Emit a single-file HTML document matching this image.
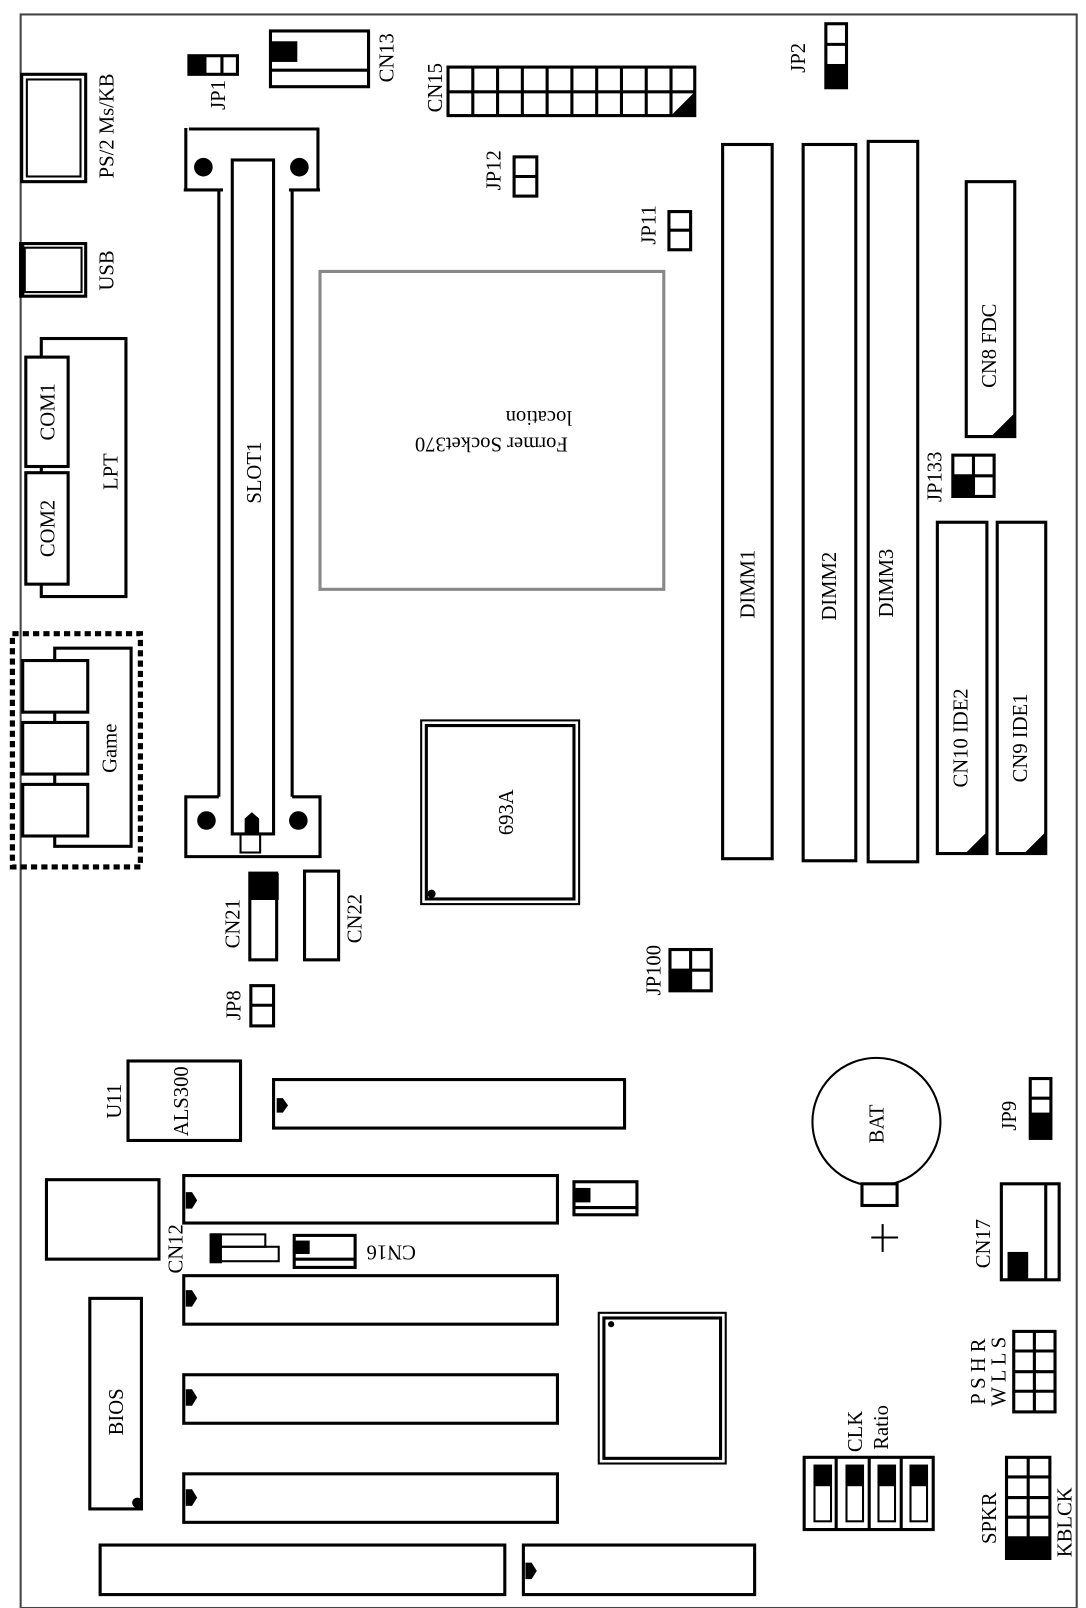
<!DOCTYPE html>
<html><head><meta charset="utf-8"><style>
html,body{margin:0;padding:0;background:#fff;}
svg{display:block;}
text{font-family:"Liberation Serif","Times New Roman",serif;font-size:20px;fill:#000;}
</style></head><body>
<svg width="1086" height="1608" viewBox="0 0 1052 1558" preserveAspectRatio="none" xmlns="http://www.w3.org/2000/svg">
<g fill="none" stroke="#000" stroke-width="3">
<rect x="20" y="14" width="1023" height="1544" stroke="#444" stroke-width="2"/>
<rect x="21" y="72" width="62" height="104"/>
<rect x="26" y="77" width="52" height="94" stroke-width="2"/>
<rect x="20" y="236" width="63" height="51"/>
<rect x="24" y="240" width="55" height="43" stroke-width="2"/>
<line x1="21" y1="236" x2="21" y2="287" stroke-width="5"/>
<rect x="40" y="328" width="82" height="250"/>
<rect x="25" y="346" width="41" height="106" fill="#fff"/>
<rect x="25" y="458" width="41" height="108" fill="#fff"/>
<rect x="12" y="614" width="124" height="226" stroke-width="5" stroke-dasharray="6,4"/>
<rect x="53" y="628" width="74" height="192"/>
<rect x="22" y="640" width="63" height="50" fill="#fff"/>
<rect x="22" y="700" width="63" height="50" fill="#fff"/>
<rect x="22" y="760" width="63" height="50" fill="#fff"/>
<polyline points="180,184 180,124"/>
<polyline points="183,125 308,125 308,185"/>
<line x1="178" y1="184" x2="216" y2="184"/>
<line x1="280" y1="184" x2="310" y2="184"/>
<line x1="212" y1="184" x2="212" y2="772"/>
<line x1="283" y1="184" x2="283" y2="772"/>
<rect x="225" y="155" width="40" height="653"/>
<polyline points="212,772 180,772 180,830 310,830 310,772 283,772"/>
<rect x="233" y="808" width="19" height="18" stroke-width="2"/>
<rect x="183" y="54" width="47" height="18"/>
<line x1="215" y1="54" x2="215" y2="72"/>
<rect x="262" y="30" width="95" height="54"/>
<line x1="262" y1="68" x2="357" y2="68"/>
<rect x="434" y="65" width="239" height="47"/>
<line x1="434" y1="89" x2="673" y2="89"/>
<line x1="458" y1="65" x2="458" y2="112"/><line x1="482" y1="65" x2="482" y2="112"/>
<line x1="506" y1="65" x2="506" y2="112"/><line x1="530" y1="65" x2="530" y2="112"/>
<line x1="554" y1="65" x2="554" y2="112"/><line x1="578" y1="65" x2="578" y2="112"/>
<line x1="602" y1="65" x2="602" y2="112"/><line x1="626" y1="65" x2="626" y2="112"/>
<line x1="650" y1="65" x2="650" y2="112"/>
<rect x="498" y="152" width="22" height="38"/><line x1="498" y1="171" x2="520" y2="171"/>
<rect x="648" y="205" width="21" height="37"/><line x1="648" y1="223" x2="669" y2="223"/>
<rect x="800" y="23" width="20" height="62"/><line x1="800" y1="43" x2="820" y2="43"/>
<rect x="310" y="263" width="333" height="308" stroke="#888" stroke-width="3"/>
<rect x="700" y="140" width="48" height="692"/>
<rect x="778" y="140" width="51" height="694"/>
<rect x="841" y="137" width="48" height="698"/>
<rect x="936" y="176" width="47" height="247"/>
<rect x="923" y="441" width="40" height="40"/><line x1="943" y1="441" x2="943" y2="481"/><line x1="923" y1="461" x2="963" y2="461"/>
<rect x="908" y="506" width="48" height="321"/>
<rect x="966" y="506" width="47" height="321"/>
<rect x="408" y="698" width="153" height="178" stroke-width="2"/>
<rect x="413" y="703" width="143" height="168" stroke-width="3"/>
<rect x="649" y="920" width="40" height="40"/><line x1="669" y1="920" x2="669" y2="960"/><line x1="649" y1="940" x2="689" y2="940"/>
<rect x="242" y="846" width="26" height="84"/>
<rect x="295" y="844" width="33" height="86"/>
<rect x="243" y="955" width="22" height="39"/><line x1="243" y1="974" x2="265" y2="974"/>
<rect x="124" y="1028" width="109" height="77"/>
<rect x="265" y="1046" width="340" height="47"/>
<rect x="45" y="1143" width="109" height="77"/>
<rect x="178" y="1139" width="362" height="46"/>
<rect x="178" y="1236" width="362" height="47"/>
<rect x="178" y="1332" width="362" height="47"/>
<rect x="178" y="1428" width="362" height="47"/>
<rect x="205" y="1196" width="52" height="12" stroke-width="2"/>
<rect x="205" y="1208" width="65" height="14" stroke-width="2"/>
<rect x="285" y="1197" width="59" height="31"/><line x1="285" y1="1220" x2="344" y2="1220"/>
<rect x="556" y="1145" width="61" height="32"/><line x1="556" y1="1170" x2="617" y2="1170"/>
<rect x="87" y="1258" width="50" height="204"/>
<rect x="97" y="1497" width="392" height="48"/>
<rect x="507" y="1497" width="224" height="48"/>
<rect x="580" y="1272" width="123" height="146" stroke-width="2"/>
<rect x="585" y="1277" width="113" height="136"/>
<circle cx="849" cy="1087" r="62" stroke-width="2"/>
<rect x="835" y="1147" width="34" height="21" fill="#fff"/>
<line x1="844" y1="1199" x2="870" y2="1199" stroke-width="2"/>
<line x1="855" y1="1186" x2="855" y2="1213" stroke-width="2"/>
<rect x="998" y="1045" width="20" height="58"/><line x1="998" y1="1064" x2="1018" y2="1064"/>
<rect x="970" y="1147" width="56" height="93"/><line x1="1013" y1="1147" x2="1013" y2="1240"/>
<rect x="982" y="1290" width="40" height="78"/><line x1="1002" y1="1290" x2="1002" y2="1368"/>
<line x1="982" y1="1309" x2="1022" y2="1309"/><line x1="982" y1="1329" x2="1022" y2="1329"/><line x1="982" y1="1348" x2="1022" y2="1348"/>
<rect x="779" y="1412" width="125" height="70"/>
<line x1="810" y1="1412" x2="810" y2="1482"/><line x1="842" y1="1412" x2="842" y2="1482"/><line x1="873" y1="1412" x2="873" y2="1482"/>
<rect x="789" y="1420" width="16" height="54" stroke-width="2"/>
<rect x="820" y="1420" width="16" height="54" stroke-width="2"/>
<rect x="851" y="1420" width="16" height="54" stroke-width="2"/>
<rect x="882" y="1420" width="16" height="54" stroke-width="2"/>
<rect x="975" y="1412" width="42" height="98"/><line x1="996" y1="1412" x2="996" y2="1510"/>
<line x1="975" y1="1431" x2="1017" y2="1431"/><line x1="975" y1="1451" x2="1017" y2="1451"/><line x1="975" y1="1470" x2="1017" y2="1470"/><line x1="975" y1="1490" x2="1017" y2="1490"/>
</g>
<g fill="#000">
<circle cx="197" cy="162" r="9"/><circle cx="290" cy="162" r="9"/>
<circle cx="200" cy="795" r="9"/><circle cx="289" cy="795" r="9"/>
<polygon points="237,808 237,793 244,787 251,793 251,808"/>
<rect x="183" y="54" width="17" height="18"/>
<rect x="263" y="40" width="25" height="20"/>
<polygon points="673,89 673,112 650,112"/>
<rect x="800" y="62" width="20" height="23"/>
<polygon points="983,400 983,423 960,423"/>
<rect x="923" y="461" width="20" height="20"/>
<polygon points="956,806 956,827 935,827"/>
<polygon points="1013,806 1013,827 992,827"/>
<circle cx="418" cy="866" r="4"/>
<rect x="649" y="940" width="20" height="20"/>
<rect x="241" y="846" width="29" height="26"/>
<polygon points="268,1064 274,1064 279,1071 274,1078 268,1078"/>
<polygon points="180,1155 186,1155 191,1163 186,1171 180,1171"/>
<polygon points="180,1250 186,1250 191,1258 186,1266 180,1266"/>
<polygon points="180,1346 186,1346 191,1354 186,1362 180,1362"/>
<polygon points="180,1443 186,1443 191,1451 186,1459 180,1459"/>
<polygon points="509,1514 515,1514 520,1522 515,1530 509,1530"/>
<rect x="203" y="1195" width="12" height="29"/>
<rect x="286" y="1202" width="14" height="13"/>
<rect x="557" y="1151" width="15" height="14"/>
<circle cx="133" cy="1456" r="5"/>
<circle cx="592" cy="1283" r="3"/>
<rect x="998" y="1078" width="20" height="25"/>
<rect x="976" y="1213" width="20" height="27"/>
<rect x="789" y="1420" width="16" height="20"/><rect x="820" y="1420" width="16" height="20"/>
<rect x="851" y="1420" width="16" height="20"/><rect x="882" y="1420" width="16" height="20"/>
<rect x="975" y="1490" width="42" height="20"/>
</g>
<g text-anchor="middle">
<text transform="translate(110,122) rotate(-90)">PS/2 Ms/KB</text>
<text transform="translate(110,262) rotate(-90)">USB</text>
<text transform="translate(53,399) rotate(-90)">COM1</text>
<text transform="translate(53,512) rotate(-90)">COM2</text>
<text transform="translate(114,457) rotate(-90)">LPT</text>
<text transform="translate(113,725) rotate(-90)">Game</text>
<text transform="translate(253,458) rotate(-90)">SLOT1</text>
<text transform="translate(218,92) rotate(-90)">JP1</text>
<text transform="translate(381,56) rotate(-90)">CN13</text>
<text transform="translate(428,85) rotate(-90)">CN15</text>
<text transform="translate(485,165) rotate(-90)">JP12</text>
<text transform="translate(635,218) rotate(-90)">JP11</text>
<text transform="translate(780,56) rotate(-90)">JP2</text>
<text transform="translate(476,424) rotate(180)">Former Socket370</text>
<text transform="translate(522,398) rotate(180)">location</text>
<text transform="translate(731,566) rotate(-90)">DIMM1</text>
<text transform="translate(810,568) rotate(-90)">DIMM2</text>
<text transform="translate(865,565) rotate(-90)">DIMM3</text>
<text transform="translate(965,335) rotate(-90)">CN8  FDC</text>
<text transform="translate(912,462) rotate(-90)">JP133</text>
<text transform="translate(937,715) rotate(-90)">CN10 IDE2</text>
<text transform="translate(995,715) rotate(-90)">CN9  IDE1</text>
<text transform="translate(497,787) rotate(-90)">693A</text>
<text transform="translate(640,940) rotate(-90)">JP100</text>
<text transform="translate(232,895) rotate(-90)">CN21</text>
<text transform="translate(350,890) rotate(-90)">CN22</text>
<text transform="translate(233,974) rotate(-90)">JP8</text>
<text transform="translate(117,1067) rotate(-90)">U11</text>
<text transform="translate(182,1067) rotate(-90)">ALS300</text>
<text transform="translate(177,1210) rotate(-90)">CN12</text>
<text transform="translate(379,1207) rotate(180)">CN16</text>
<text transform="translate(119,1368) rotate(-90)">BIOS</text>
<text transform="translate(856,1089) rotate(-90)">BAT</text>
<text transform="translate(984,1081) rotate(-90)">JP9</text>
<text transform="translate(959,1205) rotate(-90)">CN17</text>
<text transform="translate(954,1329) rotate(-90)">P S H R</text>
<text transform="translate(974,1329) rotate(-90)">W L L S</text>
<text transform="translate(835,1387) rotate(-90)">CLK</text>
<text transform="translate(860,1383) rotate(-90)">Ratio</text>
<text transform="translate(965,1471) rotate(-90)">SPKR</text>
<text transform="translate(1038,1475) rotate(-90)">KBLCK</text>
</g>
</svg>
</body></html>
